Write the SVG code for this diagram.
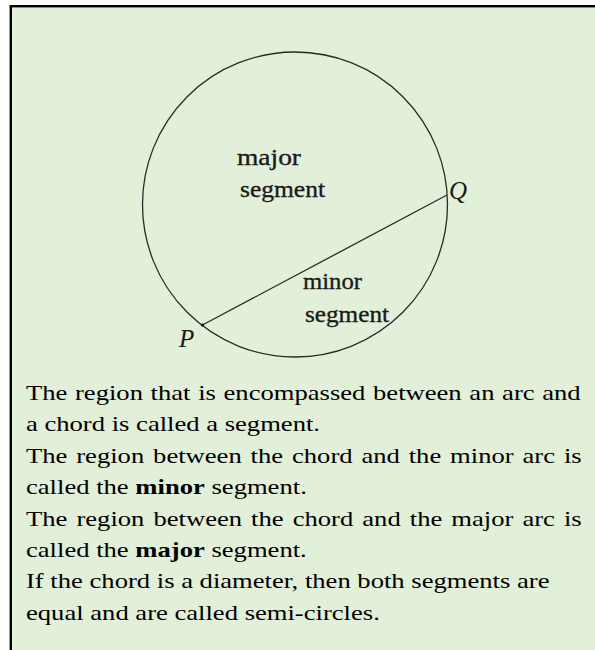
<svg xmlns="http://www.w3.org/2000/svg" width="595" height="650" viewBox="0 0 595 650">
  <style>
    .body { font-family: "Liberation Serif", "Times New Roman", serif; font-size: 22px; fill: #000; }
    .lbl { font-family: "Liberation Serif", "Times New Roman", serif; font-size: 24px; fill: #1a1a1a; stroke: #1a1a1a; stroke-width: 0.35; }
    .pt { font-family: "Liberation Serif", "Times New Roman", serif; font-size: 25px; font-style: italic; fill: #1a1a1a; }
    .geo { fill: none; stroke: #2a2a2a; stroke-width: 1.3; }
  </style>
  <rect x="0" y="0" width="595" height="650" fill="#ffffff"/>
  <g id="frame">
    <rect x="10.8" y="6.2" width="600" height="660" fill="#E2EFD9" stroke="#000" stroke-width="2.4"/>
  </g>
  <g id="circle">
    <circle class="geo" cx="295" cy="204.5" r="152.5"/>
  </g>
  <g id="connectors">
    <line id="chord-PQ" class="geo" x1="202.5" y1="325" x2="447" y2="195"/>
  </g>
  <g id="point-P">
    <circle cx="202.5" cy="325" r="1.6" fill="#111"/>
    <text class="pt" x="179" y="347">P</text>
  </g>
  <g id="point-Q">
    <text class="pt" x="449" y="199">Q</text>
  </g>
  <g id="label-major">
    <text class="lbl" x="237" y="165" textLength="64" lengthAdjust="spacingAndGlyphs">major</text>
    <text class="lbl" x="240" y="197" textLength="85" lengthAdjust="spacingAndGlyphs">segment</text>
  </g>
  <g id="label-minor">
    <text class="lbl" x="303" y="289" textLength="59" lengthAdjust="spacingAndGlyphs">minor</text>
    <text class="lbl" x="305" y="322" textLength="84" lengthAdjust="spacingAndGlyphs">segment</text>
  </g>
  <g id="description" transform="translate(26,0) scale(1.21,1)">
    <text class="body" x="0" y="400" word-spacing="0.82">The region that is encompassed between an arc and</text>
    <text class="body" x="0" y="431.4">a chord is called a segment.</text>
    <text class="body" x="0" y="462.8" word-spacing="1.84">The region between the chord and the minor arc is</text>
    <text class="body" x="0" y="494.2">called the <tspan font-weight="bold">minor</tspan> segment.</text>
    <text class="body" x="0" y="525.6" word-spacing="1.98">The region between the chord and the major arc is</text>
    <text class="body" x="0" y="557">called the <tspan font-weight="bold">major</tspan> segment.</text>
    <text class="body" x="0" y="588.4">If the chord is a diameter, then both segments are</text>
    <text class="body" x="0" y="619.8">equal and are called semi-circles.</text>
  </g>
</svg>
